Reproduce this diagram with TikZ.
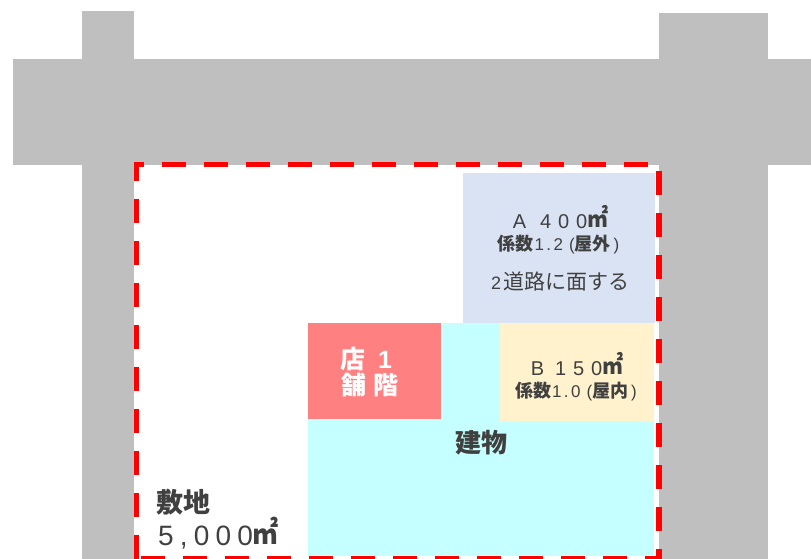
\documentclass[tikz,border=0pt]{standalone}
\usepackage{fontspec}
\setmainfont{Liberation Sans}
\newfontfamily\jp{Noto Sans CJK JP}
\newfontfamily\lat[LetterSpace=34]{Liberation Sans}
\newfontfamily\latc[LetterSpace=22]{Liberation Sans}
\newfontfamily\latb[LetterSpace=14]{Liberation Sans}
\newcommand{\sqmark}[1]{\raisebox{1pt}{\scalebox{1}[1.2]{\fontsize{#1}{#1}\selectfont\jp\bfseries ㎡}}}
\newcommand{\jpb}[1]{{\fontsize{18}{18}\selectfont\jp\bfseries #1}}
\definecolor{road}{HTML}{BFBFBF}
\definecolor{txt}{HTML}{404040}
\definecolor{areaA}{HTML}{DAE3F3}
\definecolor{areaB}{HTML}{FFF2CC}
\definecolor{bld}{HTML}{C6FFFF}
\definecolor{shop}{HTML}{FF8080}
\tikzset{
  plain/.style={fill=#1,draw=none},
  label/.style={text=txt,inner sep=0pt,anchor=center},
  boundary/.style={draw=red,line width=5.5pt,dash pattern=on 24pt off 18pt,dash phase=#1}
}
\begin{document}
\begin{tikzpicture}[x=1pt,y=-1pt]
\useasboundingbox (0,0) rectangle (811,559);
% roads
\fill[plain=road] (82,11) rectangle (134,559);
\fill[plain=road] (659,13) rectangle (768,559);
\fill[plain=road] (13,59) rectangle (811,165);
% site
\fill[plain=white] (134,165) rectangle (659,559);
% building and areas
\fill[plain=bld] (308,323) rectangle (654,556);
\fill[plain=areaA] (463,173) rectangle (655,323);
\fill[plain=shop] (308,323) rectangle (441,419);
\fill[plain=areaB] (500,323) rectangle (654,421);
% site boundary
\draw[boundary=14.3pt] (134,164.7) -- (659,164.7);
\draw[boundary=4.7pt] (136.4,162) -- (136.4,559);
\draw[boundary=32.7pt] (659,162) -- (659,559);
\draw[boundary=37.8pt] (136.5,558.5) -- (662,558.5);
% labels
\node[label,anchor=base] (a1) at (560.5,228) {\fontsize{20}{20}\selectfont\lat A\hspace{14pt}400\sqmark{21}};
\node[label] (a2) at (558.5,245) {\fontsize{17}{17}\selectfont\jpb{係数}\latb\hspace{1pt}1.2\hspace{6pt}(\jpb{屋外}\hspace{3pt})};
\node[label] (a3) at (560,282) {\fontsize{21}{21}\selectfont{\fontsize{18}{18}\selectfont\latb 2}\hspace{2pt}{\jp 道路に面する}};
\node[label,anchor=base] (b1) at (577,375) {\fontsize{20}{20}\selectfont\lat B\hspace{11pt}150\sqmark{21}};
\node[label] (b2) at (576,391.5) {\fontsize{17}{17}\selectfont\jpb{係数}\latb\hspace{1pt}1.0\hspace{6pt}(\jpb{屋内}\hspace{3pt})};
\node[label,text=white] (s1) at (366,358.5) {\fontsize{25}{25}\selectfont{\jp\bfseries 店}\hspace{13pt}{\bfseries 1}};
\node[label,text=white] (s2) at (370,385) {\fontsize{25}{25}\selectfont\jp\bfseries 舗\hspace{7pt}階};
\node[label] (c) at (481.5,443) {\fontsize{26}{26}\selectfont\jp\bfseries 建物};
\node[label,anchor=west] (d1) at (156.5,502) {\fontsize{27}{27}\selectfont\jp\bfseries 敷地};
\node[label,anchor=base west] (d2) at (158,545) {\fontsize{28}{28}\selectfont\latc 5,000\sqmark{26}};
\end{tikzpicture}
\end{document}
